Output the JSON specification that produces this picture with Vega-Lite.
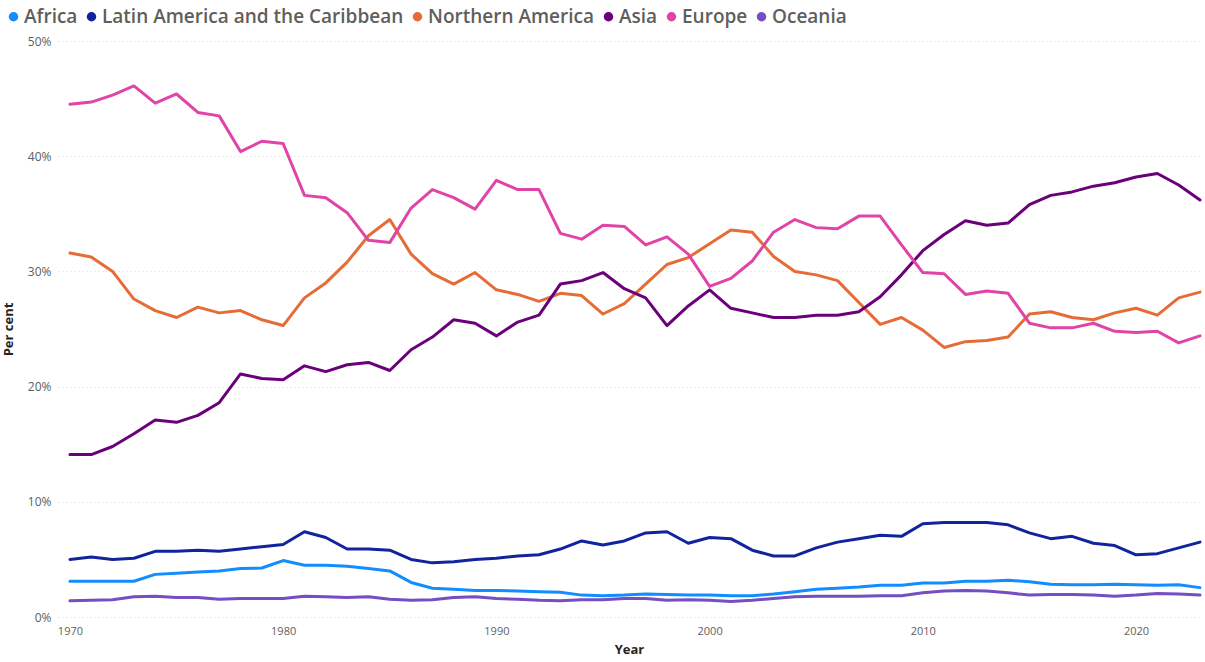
{
  "$schema": "https://vega.github.io/schema/vega-lite/v6.json",
  "width": 1142,
  "height": 576,
  "autosize": {"type": "none"},
  "padding": {"left": 58, "top": 41, "right": 5, "bottom": 45},
  "background": "white",
  "config": {
    "view": {"stroke": null},
    "font": "Open Sans"
  },
  "data": {"values": [
    {"Year":1970,"Region":"Africa","Value":3.1},{"Year":1971,"Region":"Africa","Value":3.1},{"Year":1972,"Region":"Africa","Value":3.1},{"Year":1973,"Region":"Africa","Value":3.1},{"Year":1974,"Region":"Africa","Value":3.7},{"Year":1975,"Region":"Africa","Value":3.8},{"Year":1976,"Region":"Africa","Value":3.9},{"Year":1977,"Region":"Africa","Value":4.0},{"Year":1978,"Region":"Africa","Value":4.2},{"Year":1979,"Region":"Africa","Value":4.25},{"Year":1980,"Region":"Africa","Value":4.9},{"Year":1981,"Region":"Africa","Value":4.5},{"Year":1982,"Region":"Africa","Value":4.5},{"Year":1983,"Region":"Africa","Value":4.4},{"Year":1984,"Region":"Africa","Value":4.2},{"Year":1985,"Region":"Africa","Value":4.0},{"Year":1986,"Region":"Africa","Value":3.0},{"Year":1987,"Region":"Africa","Value":2.5},{"Year":1988,"Region":"Africa","Value":2.4},{"Year":1989,"Region":"Africa","Value":2.3},{"Year":1990,"Region":"Africa","Value":2.3},{"Year":1991,"Region":"Africa","Value":2.25},{"Year":1992,"Region":"Africa","Value":2.2},{"Year":1993,"Region":"Africa","Value":2.15},{"Year":1994,"Region":"Africa","Value":1.9},{"Year":1995,"Region":"Africa","Value":1.85},{"Year":1996,"Region":"Africa","Value":1.9},{"Year":1997,"Region":"Africa","Value":2.0},{"Year":1998,"Region":"Africa","Value":1.95},{"Year":1999,"Region":"Africa","Value":1.9},{"Year":2000,"Region":"Africa","Value":1.9},{"Year":2001,"Region":"Africa","Value":1.85},{"Year":2002,"Region":"Africa","Value":1.85},{"Year":2003,"Region":"Africa","Value":2.0},{"Year":2004,"Region":"Africa","Value":2.2},{"Year":2005,"Region":"Africa","Value":2.4},{"Year":2006,"Region":"Africa","Value":2.5},{"Year":2007,"Region":"Africa","Value":2.6},{"Year":2008,"Region":"Africa","Value":2.75},{"Year":2009,"Region":"Africa","Value":2.75},{"Year":2010,"Region":"Africa","Value":2.95},{"Year":2011,"Region":"Africa","Value":2.95},{"Year":2012,"Region":"Africa","Value":3.1},{"Year":2013,"Region":"Africa","Value":3.1},{"Year":2014,"Region":"Africa","Value":3.2},{"Year":2015,"Region":"Africa","Value":3.05},{"Year":2016,"Region":"Africa","Value":2.85},{"Year":2017,"Region":"Africa","Value":2.8},{"Year":2018,"Region":"Africa","Value":2.8},{"Year":2019,"Region":"Africa","Value":2.85},{"Year":2020,"Region":"Africa","Value":2.8},{"Year":2021,"Region":"Africa","Value":2.75},{"Year":2022,"Region":"Africa","Value":2.8},{"Year":2023,"Region":"Africa","Value":2.55},
    {"Year":1970,"Region":"Latin America and the Caribbean","Value":5.0},{"Year":1971,"Region":"Latin America and the Caribbean","Value":5.2},{"Year":1972,"Region":"Latin America and the Caribbean","Value":5.0},{"Year":1973,"Region":"Latin America and the Caribbean","Value":5.1},{"Year":1974,"Region":"Latin America and the Caribbean","Value":5.7},{"Year":1975,"Region":"Latin America and the Caribbean","Value":5.7},{"Year":1976,"Region":"Latin America and the Caribbean","Value":5.8},{"Year":1977,"Region":"Latin America and the Caribbean","Value":5.7},{"Year":1978,"Region":"Latin America and the Caribbean","Value":5.9},{"Year":1979,"Region":"Latin America and the Caribbean","Value":6.1},{"Year":1980,"Region":"Latin America and the Caribbean","Value":6.3},{"Year":1981,"Region":"Latin America and the Caribbean","Value":7.4},{"Year":1982,"Region":"Latin America and the Caribbean","Value":6.9},{"Year":1983,"Region":"Latin America and the Caribbean","Value":5.9},{"Year":1984,"Region":"Latin America and the Caribbean","Value":5.9},{"Year":1985,"Region":"Latin America and the Caribbean","Value":5.8},{"Year":1986,"Region":"Latin America and the Caribbean","Value":5.0},{"Year":1987,"Region":"Latin America and the Caribbean","Value":4.7},{"Year":1988,"Region":"Latin America and the Caribbean","Value":4.8},{"Year":1989,"Region":"Latin America and the Caribbean","Value":5.0},{"Year":1990,"Region":"Latin America and the Caribbean","Value":5.1},{"Year":1991,"Region":"Latin America and the Caribbean","Value":5.3},{"Year":1992,"Region":"Latin America and the Caribbean","Value":5.4},{"Year":1993,"Region":"Latin America and the Caribbean","Value":5.9},{"Year":1994,"Region":"Latin America and the Caribbean","Value":6.6},{"Year":1995,"Region":"Latin America and the Caribbean","Value":6.25},{"Year":1996,"Region":"Latin America and the Caribbean","Value":6.6},{"Year":1997,"Region":"Latin America and the Caribbean","Value":7.3},{"Year":1998,"Region":"Latin America and the Caribbean","Value":7.4},{"Year":1999,"Region":"Latin America and the Caribbean","Value":6.4},{"Year":2000,"Region":"Latin America and the Caribbean","Value":6.9},{"Year":2001,"Region":"Latin America and the Caribbean","Value":6.8},{"Year":2002,"Region":"Latin America and the Caribbean","Value":5.8},{"Year":2003,"Region":"Latin America and the Caribbean","Value":5.3},{"Year":2004,"Region":"Latin America and the Caribbean","Value":5.3},{"Year":2005,"Region":"Latin America and the Caribbean","Value":6.0},{"Year":2006,"Region":"Latin America and the Caribbean","Value":6.5},{"Year":2007,"Region":"Latin America and the Caribbean","Value":6.8},{"Year":2008,"Region":"Latin America and the Caribbean","Value":7.1},{"Year":2009,"Region":"Latin America and the Caribbean","Value":7.0},{"Year":2010,"Region":"Latin America and the Caribbean","Value":8.1},{"Year":2011,"Region":"Latin America and the Caribbean","Value":8.2},{"Year":2012,"Region":"Latin America and the Caribbean","Value":8.2},{"Year":2013,"Region":"Latin America and the Caribbean","Value":8.2},{"Year":2014,"Region":"Latin America and the Caribbean","Value":8.0},{"Year":2015,"Region":"Latin America and the Caribbean","Value":7.3},{"Year":2016,"Region":"Latin America and the Caribbean","Value":6.8},{"Year":2017,"Region":"Latin America and the Caribbean","Value":7.0},{"Year":2018,"Region":"Latin America and the Caribbean","Value":6.4},{"Year":2019,"Region":"Latin America and the Caribbean","Value":6.2},{"Year":2020,"Region":"Latin America and the Caribbean","Value":5.4},{"Year":2021,"Region":"Latin America and the Caribbean","Value":5.5},{"Year":2022,"Region":"Latin America and the Caribbean","Value":6.0},{"Year":2023,"Region":"Latin America and the Caribbean","Value":6.5},
    {"Year":1970,"Region":"Northern America","Value":31.6},{"Year":1971,"Region":"Northern America","Value":31.25},{"Year":1972,"Region":"Northern America","Value":30.0},{"Year":1973,"Region":"Northern America","Value":27.6},{"Year":1974,"Region":"Northern America","Value":26.6},{"Year":1975,"Region":"Northern America","Value":26.0},{"Year":1976,"Region":"Northern America","Value":26.9},{"Year":1977,"Region":"Northern America","Value":26.4},{"Year":1978,"Region":"Northern America","Value":26.6},{"Year":1979,"Region":"Northern America","Value":25.8},{"Year":1980,"Region":"Northern America","Value":25.3},{"Year":1981,"Region":"Northern America","Value":27.7},{"Year":1982,"Region":"Northern America","Value":29.0},{"Year":1983,"Region":"Northern America","Value":30.8},{"Year":1984,"Region":"Northern America","Value":33.1},{"Year":1985,"Region":"Northern America","Value":34.5},{"Year":1986,"Region":"Northern America","Value":31.5},{"Year":1987,"Region":"Northern America","Value":29.8},{"Year":1988,"Region":"Northern America","Value":28.9},{"Year":1989,"Region":"Northern America","Value":29.9},{"Year":1990,"Region":"Northern America","Value":28.4},{"Year":1991,"Region":"Northern America","Value":28.0},{"Year":1992,"Region":"Northern America","Value":27.4},{"Year":1993,"Region":"Northern America","Value":28.1},{"Year":1994,"Region":"Northern America","Value":27.9},{"Year":1995,"Region":"Northern America","Value":26.3},{"Year":1996,"Region":"Northern America","Value":27.2},{"Year":1997,"Region":"Northern America","Value":28.9},{"Year":1998,"Region":"Northern America","Value":30.6},{"Year":1999,"Region":"Northern America","Value":31.2},{"Year":2000,"Region":"Northern America","Value":32.4},{"Year":2001,"Region":"Northern America","Value":33.6},{"Year":2002,"Region":"Northern America","Value":33.4},{"Year":2003,"Region":"Northern America","Value":31.3},{"Year":2004,"Region":"Northern America","Value":30.0},{"Year":2005,"Region":"Northern America","Value":29.7},{"Year":2006,"Region":"Northern America","Value":29.2},{"Year":2007,"Region":"Northern America","Value":27.3},{"Year":2008,"Region":"Northern America","Value":25.4},{"Year":2009,"Region":"Northern America","Value":26.0},{"Year":2010,"Region":"Northern America","Value":24.9},{"Year":2011,"Region":"Northern America","Value":23.4},{"Year":2012,"Region":"Northern America","Value":23.9},{"Year":2013,"Region":"Northern America","Value":24.0},{"Year":2014,"Region":"Northern America","Value":24.3},{"Year":2015,"Region":"Northern America","Value":26.3},{"Year":2016,"Region":"Northern America","Value":26.5},{"Year":2017,"Region":"Northern America","Value":26.0},{"Year":2018,"Region":"Northern America","Value":25.8},{"Year":2019,"Region":"Northern America","Value":26.4},{"Year":2020,"Region":"Northern America","Value":26.8},{"Year":2021,"Region":"Northern America","Value":26.2},{"Year":2022,"Region":"Northern America","Value":27.7},{"Year":2023,"Region":"Northern America","Value":28.2},
    {"Year":1970,"Region":"Asia","Value":14.1},{"Year":1971,"Region":"Asia","Value":14.1},{"Year":1972,"Region":"Asia","Value":14.8},{"Year":1973,"Region":"Asia","Value":15.9},{"Year":1974,"Region":"Asia","Value":17.1},{"Year":1975,"Region":"Asia","Value":16.9},{"Year":1976,"Region":"Asia","Value":17.5},{"Year":1977,"Region":"Asia","Value":18.6},{"Year":1978,"Region":"Asia","Value":21.1},{"Year":1979,"Region":"Asia","Value":20.7},{"Year":1980,"Region":"Asia","Value":20.6},{"Year":1981,"Region":"Asia","Value":21.8},{"Year":1982,"Region":"Asia","Value":21.3},{"Year":1983,"Region":"Asia","Value":21.9},{"Year":1984,"Region":"Asia","Value":22.1},{"Year":1985,"Region":"Asia","Value":21.4},{"Year":1986,"Region":"Asia","Value":23.2},{"Year":1987,"Region":"Asia","Value":24.3},{"Year":1988,"Region":"Asia","Value":25.8},{"Year":1989,"Region":"Asia","Value":25.5},{"Year":1990,"Region":"Asia","Value":24.4},{"Year":1991,"Region":"Asia","Value":25.6},{"Year":1992,"Region":"Asia","Value":26.2},{"Year":1993,"Region":"Asia","Value":28.9},{"Year":1994,"Region":"Asia","Value":29.2},{"Year":1995,"Region":"Asia","Value":29.9},{"Year":1996,"Region":"Asia","Value":28.5},{"Year":1997,"Region":"Asia","Value":27.7},{"Year":1998,"Region":"Asia","Value":25.3},{"Year":1999,"Region":"Asia","Value":27.0},{"Year":2000,"Region":"Asia","Value":28.4},{"Year":2001,"Region":"Asia","Value":26.8},{"Year":2002,"Region":"Asia","Value":26.4},{"Year":2003,"Region":"Asia","Value":26.0},{"Year":2004,"Region":"Asia","Value":26.0},{"Year":2005,"Region":"Asia","Value":26.2},{"Year":2006,"Region":"Asia","Value":26.2},{"Year":2007,"Region":"Asia","Value":26.5},{"Year":2008,"Region":"Asia","Value":27.8},{"Year":2009,"Region":"Asia","Value":29.7},{"Year":2010,"Region":"Asia","Value":31.8},{"Year":2011,"Region":"Asia","Value":33.2},{"Year":2012,"Region":"Asia","Value":34.4},{"Year":2013,"Region":"Asia","Value":34.0},{"Year":2014,"Region":"Asia","Value":34.2},{"Year":2015,"Region":"Asia","Value":35.8},{"Year":2016,"Region":"Asia","Value":36.6},{"Year":2017,"Region":"Asia","Value":36.9},{"Year":2018,"Region":"Asia","Value":37.4},{"Year":2019,"Region":"Asia","Value":37.7},{"Year":2020,"Region":"Asia","Value":38.2},{"Year":2021,"Region":"Asia","Value":38.5},{"Year":2022,"Region":"Asia","Value":37.5},{"Year":2023,"Region":"Asia","Value":36.2},
    {"Year":1970,"Region":"Europe","Value":44.5},{"Year":1971,"Region":"Europe","Value":44.7},{"Year":1972,"Region":"Europe","Value":45.3},{"Year":1973,"Region":"Europe","Value":46.1},{"Year":1974,"Region":"Europe","Value":44.6},{"Year":1975,"Region":"Europe","Value":45.4},{"Year":1976,"Region":"Europe","Value":43.8},{"Year":1977,"Region":"Europe","Value":43.5},{"Year":1978,"Region":"Europe","Value":40.4},{"Year":1979,"Region":"Europe","Value":41.3},{"Year":1980,"Region":"Europe","Value":41.1},{"Year":1981,"Region":"Europe","Value":36.6},{"Year":1982,"Region":"Europe","Value":36.4},{"Year":1983,"Region":"Europe","Value":35.1},{"Year":1984,"Region":"Europe","Value":32.7},{"Year":1985,"Region":"Europe","Value":32.5},{"Year":1986,"Region":"Europe","Value":35.5},{"Year":1987,"Region":"Europe","Value":37.1},{"Year":1988,"Region":"Europe","Value":36.4},{"Year":1989,"Region":"Europe","Value":35.4},{"Year":1990,"Region":"Europe","Value":37.9},{"Year":1991,"Region":"Europe","Value":37.1},{"Year":1992,"Region":"Europe","Value":37.1},{"Year":1993,"Region":"Europe","Value":33.3},{"Year":1994,"Region":"Europe","Value":32.8},{"Year":1995,"Region":"Europe","Value":34.0},{"Year":1996,"Region":"Europe","Value":33.9},{"Year":1997,"Region":"Europe","Value":32.3},{"Year":1998,"Region":"Europe","Value":33.0},{"Year":1999,"Region":"Europe","Value":31.5},{"Year":2000,"Region":"Europe","Value":28.7},{"Year":2001,"Region":"Europe","Value":29.4},{"Year":2002,"Region":"Europe","Value":30.9},{"Year":2003,"Region":"Europe","Value":33.4},{"Year":2004,"Region":"Europe","Value":34.5},{"Year":2005,"Region":"Europe","Value":33.8},{"Year":2006,"Region":"Europe","Value":33.7},{"Year":2007,"Region":"Europe","Value":34.8},{"Year":2008,"Region":"Europe","Value":34.8},{"Year":2009,"Region":"Europe","Value":32.3},{"Year":2010,"Region":"Europe","Value":29.9},{"Year":2011,"Region":"Europe","Value":29.8},{"Year":2012,"Region":"Europe","Value":28.0},{"Year":2013,"Region":"Europe","Value":28.3},{"Year":2014,"Region":"Europe","Value":28.1},{"Year":2015,"Region":"Europe","Value":25.5},{"Year":2016,"Region":"Europe","Value":25.1},{"Year":2017,"Region":"Europe","Value":25.1},{"Year":2018,"Region":"Europe","Value":25.5},{"Year":2019,"Region":"Europe","Value":24.8},{"Year":2020,"Region":"Europe","Value":24.7},{"Year":2021,"Region":"Europe","Value":24.8},{"Year":2022,"Region":"Europe","Value":23.8},{"Year":2023,"Region":"Europe","Value":24.4},
    {"Year":1970,"Region":"Oceania","Value":1.4},{"Year":1971,"Region":"Oceania","Value":1.45},{"Year":1972,"Region":"Oceania","Value":1.5},{"Year":1973,"Region":"Oceania","Value":1.75},{"Year":1974,"Region":"Oceania","Value":1.8},{"Year":1975,"Region":"Oceania","Value":1.7},{"Year":1976,"Region":"Oceania","Value":1.7},{"Year":1977,"Region":"Oceania","Value":1.55},{"Year":1978,"Region":"Oceania","Value":1.6},{"Year":1979,"Region":"Oceania","Value":1.6},{"Year":1980,"Region":"Oceania","Value":1.6},{"Year":1981,"Region":"Oceania","Value":1.8},{"Year":1982,"Region":"Oceania","Value":1.75},{"Year":1983,"Region":"Oceania","Value":1.7},{"Year":1984,"Region":"Oceania","Value":1.75},{"Year":1985,"Region":"Oceania","Value":1.55},{"Year":1986,"Region":"Oceania","Value":1.45},{"Year":1987,"Region":"Oceania","Value":1.5},{"Year":1988,"Region":"Oceania","Value":1.7},{"Year":1989,"Region":"Oceania","Value":1.75},{"Year":1990,"Region":"Oceania","Value":1.6},{"Year":1991,"Region":"Oceania","Value":1.55},{"Year":1992,"Region":"Oceania","Value":1.45},{"Year":1993,"Region":"Oceania","Value":1.4},{"Year":1994,"Region":"Oceania","Value":1.5},{"Year":1995,"Region":"Oceania","Value":1.5},{"Year":1996,"Region":"Oceania","Value":1.6},{"Year":1997,"Region":"Oceania","Value":1.6},{"Year":1998,"Region":"Oceania","Value":1.45},{"Year":1999,"Region":"Oceania","Value":1.5},{"Year":2000,"Region":"Oceania","Value":1.45},{"Year":2001,"Region":"Oceania","Value":1.35},{"Year":2002,"Region":"Oceania","Value":1.45},{"Year":2003,"Region":"Oceania","Value":1.6},{"Year":2004,"Region":"Oceania","Value":1.75},{"Year":2005,"Region":"Oceania","Value":1.8},{"Year":2006,"Region":"Oceania","Value":1.8},{"Year":2007,"Region":"Oceania","Value":1.8},{"Year":2008,"Region":"Oceania","Value":1.85},{"Year":2009,"Region":"Oceania","Value":1.85},{"Year":2010,"Region":"Oceania","Value":2.1},{"Year":2011,"Region":"Oceania","Value":2.25},{"Year":2012,"Region":"Oceania","Value":2.3},{"Year":2013,"Region":"Oceania","Value":2.25},{"Year":2014,"Region":"Oceania","Value":2.1},{"Year":2015,"Region":"Oceania","Value":1.9},{"Year":2016,"Region":"Oceania","Value":1.95},{"Year":2017,"Region":"Oceania","Value":1.95},{"Year":2018,"Region":"Oceania","Value":1.9},{"Year":2019,"Region":"Oceania","Value":1.8},{"Year":2020,"Region":"Oceania","Value":1.9},{"Year":2021,"Region":"Oceania","Value":2.05},{"Year":2022,"Region":"Oceania","Value":2.0},{"Year":2023,"Region":"Oceania","Value":1.9}
  ]},
  "mark": {"type": "line", "strokeWidth": 3, "strokeJoin": "round", "strokeCap": "round"},
  "encoding": {
    "x": {
      "field": "Year", "type": "quantitative",
      "scale": {"domain": [1969.44, 2023], "nice": false, "zero": false},
      "axis": {
        "values": [1970, 1980, 1990, 2000, 2010, 2020],
        "format": "d",
        "grid": false, "domain": false, "ticks": false,
        "labelFont": "Open Sans", "labelFontSize": 11, "labelColor": "#605E5C", "labelPadding": 8,
        "title": "Year", "titleFont": "Open Sans", "titleFontSize": 13, "titleFontWeight": "bold", "titleColor": "#252423", "titlePadding": 7
      }
    },
    "y": {
      "field": "Value", "type": "quantitative",
      "scale": {"domain": [0, 50], "nice": false},
      "axis": {
        "values": [0, 10, 20, 30, 40, 50],
        "labelExpr": "datum.value + '%'",
        "grid": true, "gridColor": "#D9D9D9", "gridDash": [1, 3], "gridWidth": 1,
        "domain": false, "ticks": false,
        "labelFont": "Open Sans", "labelFontSize": 12, "labelColor": "#605E5C", "labelPadding": 7,
        "title": "Per cent", "titleFont": "Open Sans", "titleFontSize": 13, "titleFontWeight": "bold", "titleColor": "#252423", "titlePadding": 12
      }
    },
    "color": {
      "field": "Region", "type": "nominal",
      "scale": {
        "domain": ["Africa", "Latin America and the Caribbean", "Northern America", "Asia", "Europe", "Oceania"],
        "range": ["#118DFF", "#12239E", "#E66C37", "#6B007B", "#E044A7", "#744EC2"]
      },
      "legend": {
        "orient": "none", "legendX": -54, "legendY": -34,
        "direction": "horizontal", "title": null,
        "symbolType": "circle", "symbolSize": 90, "symbolStrokeWidth": 0,
        "labelFont": "Open Sans", "labelFontSize": 19, "labelFontWeight": 600, "labelColor": "#605E5C",
        "labelOffset": 1, "columnPadding": 4, "labelLimit": 500,
        "encode": {"symbols": {"update": {"fill": {"scale": "color", "field": "value"}, "fillOpacity": {"value": 1}}}}
      }
    }
  }
}
